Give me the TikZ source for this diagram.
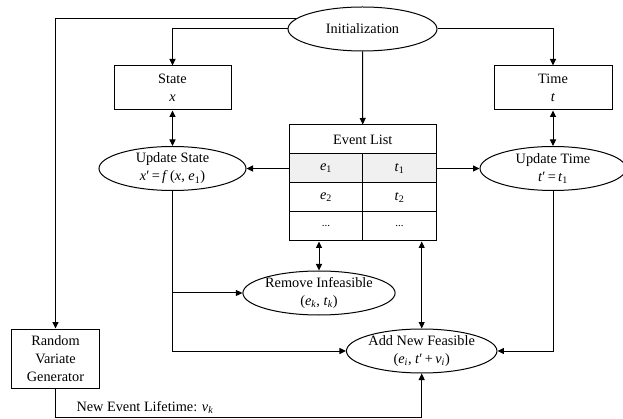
\documentclass[tikz,border=0pt]{standalone}
\usepackage{fontspec}
\setmainfont{Liberation Serif}
\usetikzlibrary{arrows.meta,shapes.geometric}
\newcommand{\mi}[1]{\textit{#1}}
\newcommand{\prm}{\char"2032}
\newcommand{\ellip}{{\fontsize{11}{12}\selectfont ...}}
\begin{document}
\begin{tikzpicture}[x=1pt, y=-1pt, line width=1pt,
		font={\fontsize{14.3}{18}\selectfont},
		box/.style={draw, align=center, inner sep=0pt},
		elli/.style={draw, ellipse, align=center, inner sep=0pt, minimum width=147pt, minimum height=44pt},
		cell/.style={draw, inner sep=0pt, minimum width=73.4pt, minimum height=29pt},
		arr/.style={-{Triangle[length=6.5pt,width=6pt]}},
		arr2/.style={{Triangle[length=6.5pt,width=6pt]}-{Triangle[length=6.5pt,width=6pt]}}]
	\useasboundingbox (0,0) rectangle (623,419);
	% 画节点
	\node[elli, minimum width=149pt] (init) at (362.5,29) {Initialization};
	\node[box, minimum width=117pt, minimum height=44pt] (state) at (172.5,88) {State\\ \mi{x}};
	\node[box, minimum width=118pt, minimum height=44pt] (time) at (553,88) {Time\\ \mi{t}};
	\node[elli] (upstate) at (172.5,168.5) {Update State\\ \mi{x}\prm\,=\,\mi{f}\,(\mi{x}, \mi{e}\textsubscript{1})};
	\node[elli, minimum width=146pt] (uptime) at (553,168.5) {Update Time\\ \mi{t}\prm\,=\,\mi{t}\textsubscript{1}};
	\node[elli, minimum width=146pt] (remove) at (319,293) {Remove Infeasible\\ (\mi{e}\textsubscript{\mi{k}}, \mi{t}\textsubscript{\mi{k}})};
	\node[elli] (addnew) at (421.7,351) {Add New Feasible\\ (\mi{e}\textsubscript{\mi{i}}, \mi{t}\prm\,+\,\mi{v}\textsubscript{\mi{i}})};
	\node[box, minimum width=87.5pt, minimum height=59pt] (rvg) at (55.5,358.5) {Random\\ Variate\\ Generator};
	% 画事件表
	\node[cell, minimum width=146.8pt] (head) at (362.7,139.5) {Event List};
	\node[cell, fill=gray!12] (e1) at (326,168.5) {\mi{e}\textsubscript{1}};
	\node[cell, fill=gray!12] (t1) at (399.4,168.5) {\mi{t}\textsubscript{1}};
	\foreach \i/\e/\t in {2/\mi{e}\textsubscript{2}/\mi{t}\textsubscript{2}, 3/\ellip/\ellip} {
		\node[cell] (e\i) at (326,139.5+29*\i) {\e};
		\node[cell] (t\i) at (399.4,139.5+29*\i) {\t};
	}
	% 画连线
	\draw[arr] (init.171.4) -| (rvg.north);
	\draw[arr] (init.west) -| (state.north);
	\draw[arr] (init.east) -| (time.north);
	\draw[arr] (init.south) -- (head.north);
	\draw[arr2] (state.south) -- (upstate.north);
	\draw[arr2] (time.south) -- (uptime.north);
	\draw[arr] (e1.west) -- (upstate.east);
	\draw[arr] (t1.east) -- (uptime.west);
	\draw[arr2] (remove.north |- e3.south) -- (remove.north);
	\draw[arr2] (addnew.north |- t3.south) -- (addnew.north);
	\draw[arr] (upstate.south) |- (addnew.west);
	\draw[arr] (upstate.south |- remove.west) -- (remove.west);
	\draw[arr] (uptime.south) |- (addnew.east);
	\coordinate (bend) at (55.5,417);
	\draw[arr] (rvg.south) -- (bend) -| (addnew.south);
	\node[anchor=base west, inner sep=0pt] (life) at (76,411.5) {New Event Lifetime: \mi{v}\textsubscript{\mi{k}}};
\end{tikzpicture}
\end{document}
